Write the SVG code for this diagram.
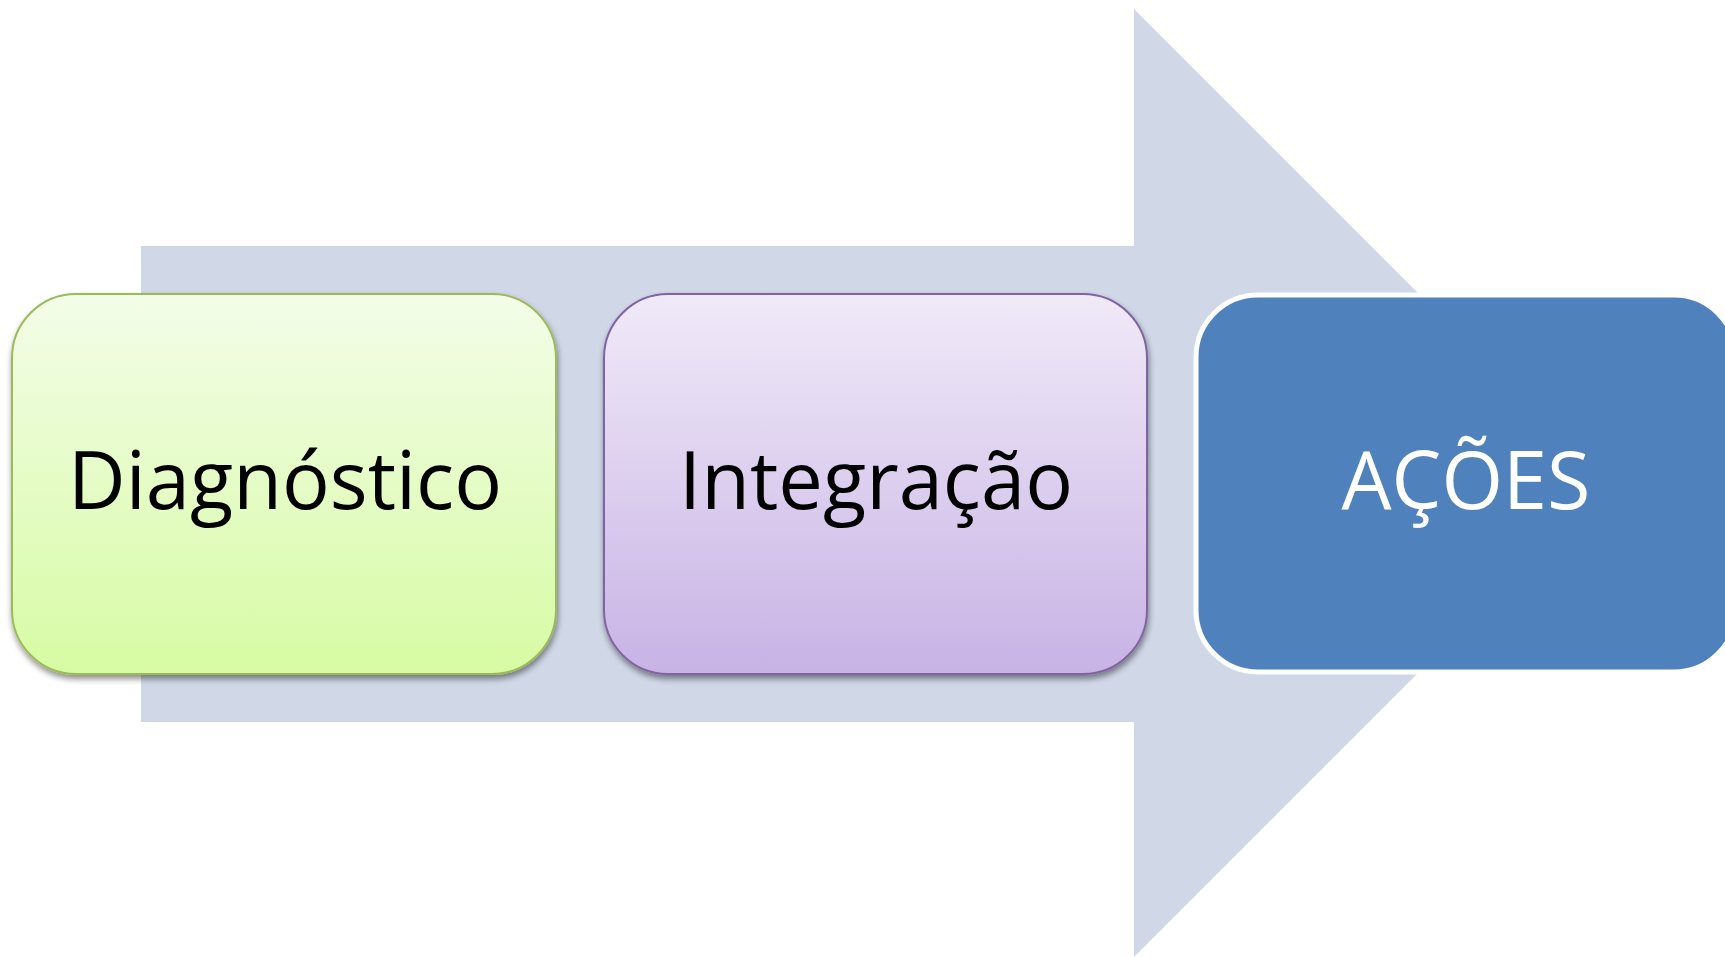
<svg xmlns="http://www.w3.org/2000/svg" width="1725" height="957" viewBox="0 0 1725 957">
<style>
.lbl{font-family:"Open Sans","Noto Sans",sans-serif;font-size:81px;text-anchor:middle}
</style>
<defs>
<linearGradient id="gGreen" x1="0" y1="0" x2="0" y2="1">
<stop offset="0" stop-color="#F3FDE8"/>
<stop offset="1" stop-color="#D7FBA4"/>
</linearGradient>
<linearGradient id="gPurple" x1="0" y1="0" x2="0" y2="1">
<stop offset="0" stop-color="#F0EAF8"/>
<stop offset="1" stop-color="#C8B3E5"/>
</linearGradient>
<filter id="sh" x="-10%" y="-10%" width="125%" height="130%">
<feGaussianBlur in="SourceAlpha" stdDeviation="3"/>
<feOffset dx="1" dy="4" result="b"/>
<feComponentTransfer><feFuncA type="linear" slope="0.45"/></feComponentTransfer>
<feMerge><feMergeNode/><feMergeNode in="SourceGraphic"/></feMerge>
</filter>
</defs>
<rect width="1725" height="957" fill="#FFFFFF"/>
<g id="connectors">
<polygon points="141,246 1134,246 1134,9 1608,483 1134,957 1134,722 141,722" fill="#D0D8E8"/>
</g>
<g id="node-diagnostico">
<rect x="12" y="294" width="544" height="380" rx="64" ry="64" fill="url(#gGreen)" stroke="#9BBB59" stroke-width="2" filter="url(#sh)"/>
<text class="lbl" x="285" y="509" fill="#000000" textLength="434" lengthAdjust="spacingAndGlyphs">Diagnóstico</text>
</g>
<g id="node-integracao">
<rect x="604" y="294" width="543" height="380" rx="64" ry="64" fill="url(#gPurple)" stroke="#8064A2" stroke-width="2" filter="url(#sh)"/>
<text class="lbl" x="876" y="509" fill="#000000" textLength="394" lengthAdjust="spacingAndGlyphs">Integração</text>
</g>
<g id="node-acoes">
<rect x="1196" y="295" width="540" height="377" rx="62" ry="62" fill="#4F81BD" stroke="#FFFFFF" stroke-width="5"/>
<text class="lbl" x="1466" y="509" fill="#FFFFFF" textLength="249" lengthAdjust="spacingAndGlyphs">AÇÕES</text>
</g>
</svg>
